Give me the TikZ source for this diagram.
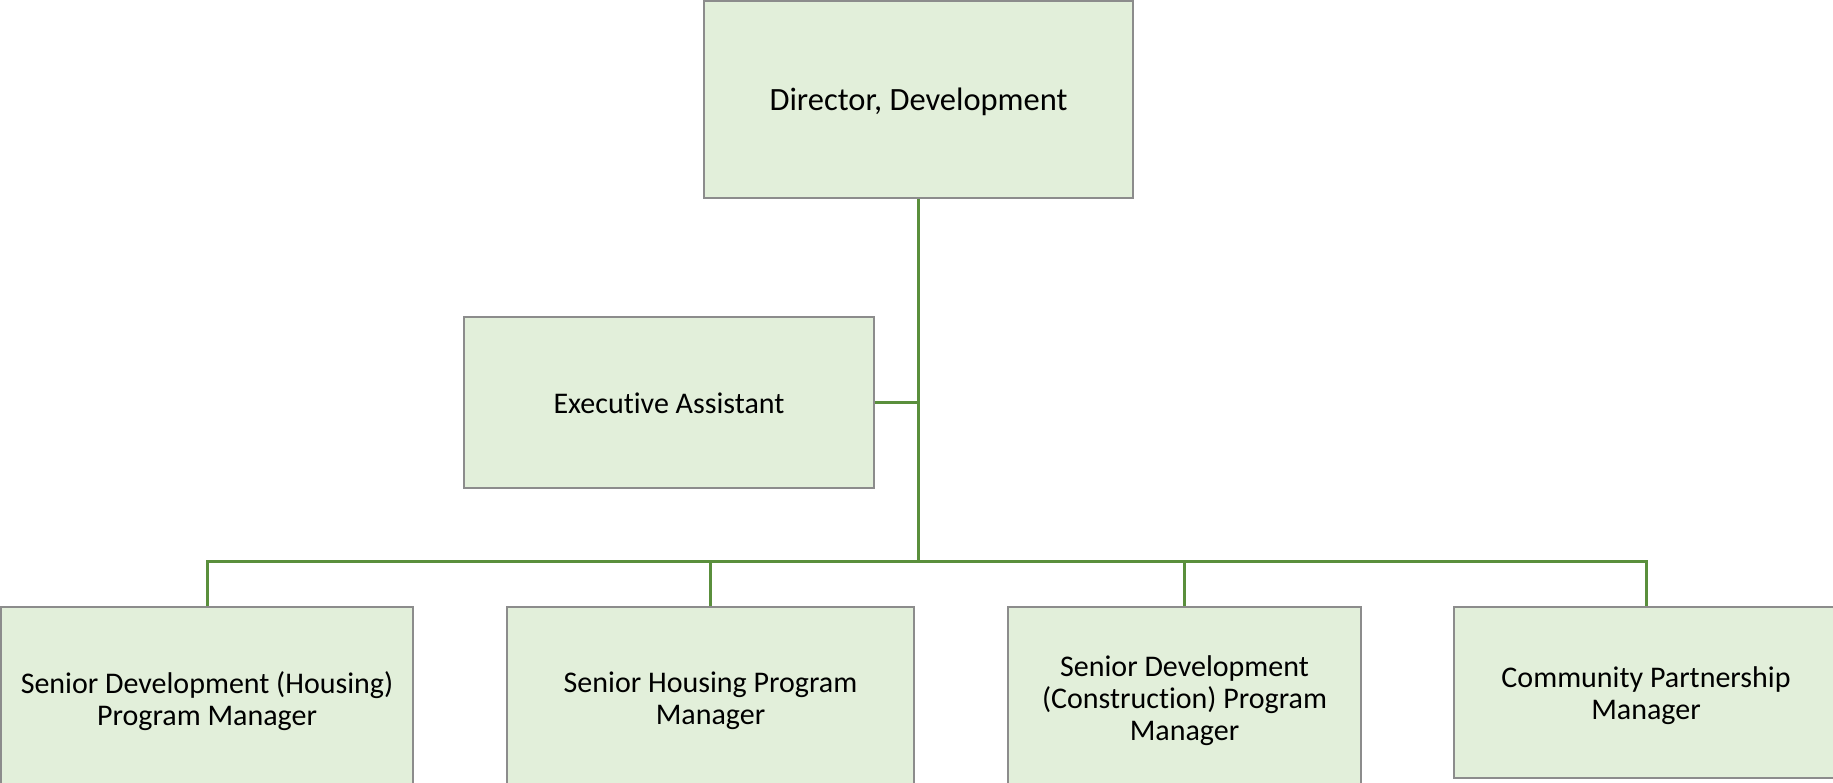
\documentclass[tikz,border=0pt]{standalone}
\usepackage{fontspec}
\setmainfont{Carlito}[Ligatures=NoCommon]
\definecolor{boxfill}{HTML}{E2EFDA}
\definecolor{boxedge}{HTML}{8C8C8C}
\definecolor{linkgreen}{HTML}{5A8F3C}
\tikzset{
  role/.style={draw=boxedge, line width=1.5pt, fill=boxfill, inner sep=0pt},
  roletext/.style={align=center, inner sep=0pt, yshift=-2.5pt,
    font=\fontsize{30}{32}\selectfont},
  link/.style={draw=linkgreen, line width=3pt}
}
\begin{document}
\begin{tikzpicture}[x=1pt, y=-1pt]
  \clip (0,0) rectangle (1833,783);
  \fill[white] (0,0) rectangle (1833,783);

  % top of the chart
  \node[role, minimum width=429pt, minimum height=197pt,
        label={[roletext, font=\fontsize{32.5}{36}\selectfont]center:Director, Development}]
        (dir) at (918.5,99.5) {};
  \node[role, minimum width=410pt, minimum height=171pt,
        label={[roletext, yshift=1.5pt]center:Executive Assistant}]
        (ea) at (669,402.5) {};

  % direct reports
  \node[role, minimum width=412pt, minimum height=183pt,
        label={[roletext]center:Senior Development (Housing)\\Program Manager}]
        (b1) at (207,698.5) {};
  \node[role, minimum width=407pt, minimum height=183pt,
        label={[roletext]center:Senior Housing Program\\Manager}]
        (b2) at (710.5,698.5) {};
  \node[role, minimum width=353pt, minimum height=183pt,
        label={[roletext]center:Senior Development\\(Construction) Program\\Manager}]
        (b3) at (1184.5,698.5) {};
  \node[role, minimum width=384pt, minimum height=171pt,
        label={[roletext, yshift=-0.5pt]center:Community Partnership\\Manager}]
        (b4) at (1646,692.5) {};

  % reporting lines
  \coordinate (bus) at (918.5,561);
  \draw[link] (dir.south) -- (bus);
  \draw[link] (ea.east) -- (ea.east -| dir.south);
  \draw[link] (b1.north) |- (bus) -| (b4.north);
  \draw[link] (b2.north) -- (b2.north |- bus);
  \draw[link] (b3.north) -- (b3.north |- bus);
\end{tikzpicture}
\end{document}
